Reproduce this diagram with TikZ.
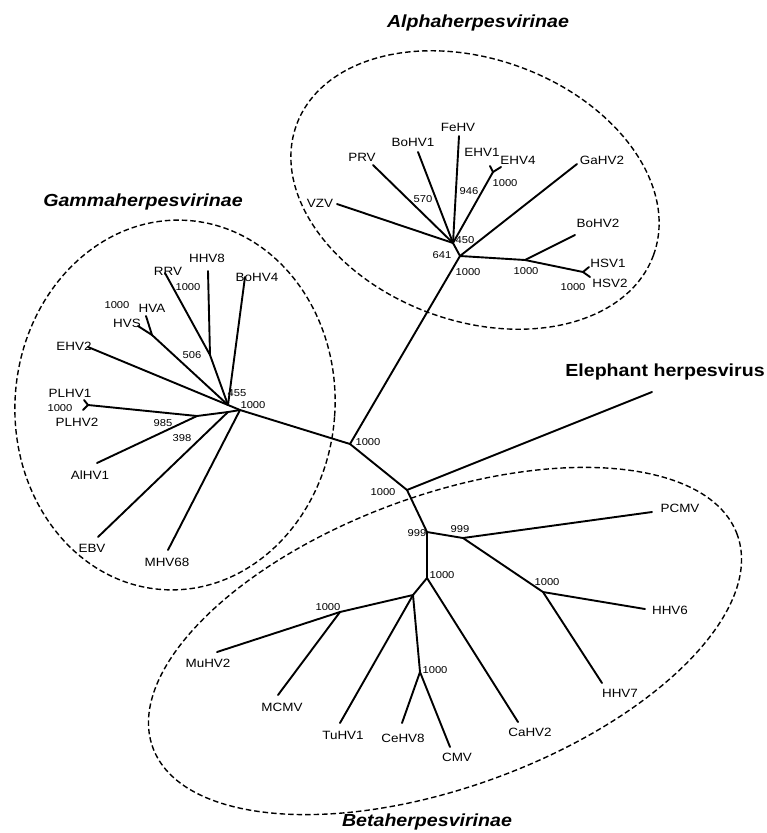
\documentclass[tikz,border=0pt]{standalone}
\usepackage{fontspec}
\setmainfont{Liberation Sans}[FakeStretch=1.12]

\begin{document}
\begin{tikzpicture}[x=1pt,y=-1pt,
    branch/.style={line width=1.9pt,line cap=round},
    clade/.style={line width=1.4pt,dash pattern=on 5.5pt off 3pt},
    taxon/.style={inner sep=0pt,font=\fontsize{12}{12}\selectfont},
    boot/.style={inner sep=0pt,font=\fontsize{10}{10}\selectfont},
    family/.style={inner sep=0pt,font=\fontsize{17.5}{17.5}\selectfont\bfseries\itshape}]
    \useasboundingbox (0,0) rectangle (767,833);
    \newcommand\twig[2]{\draw[branch] (#1) -- (#2);}

    % inner nodes of the tree
    \coordinate (c1) at (350,444);
    \coordinate (c2) at (407,490);
    \coordinate (c3) at (427,532);
    \coordinate (c4) at (427,578);
    \coordinate (c5) at (413,595);
    % alpha
    \coordinate (a0) at (460,256);
    \coordinate (a1) at (453,243);
    \coordinate (aE) at (493,172);
    \coordinate (aH) at (525,260);
    \coordinate (aS) at (583,272);
    % gamma
    \coordinate (g0) at (240,410);
    \coordinate (g1) at (228,405);
    \coordinate (g2) at (210,355);
    \coordinate (g3) at (152,335);
    \coordinate (g5) at (228,412);
    \coordinate (g4) at (197,416);
    \coordinate (gP) at (88,405);
    % beta
    \coordinate (b1) at (463,538);
    \coordinate (b2) at (543,592);
    \coordinate (b3) at (340,612);
    \coordinate (b4) at (420,672);

    % tips
    \coordinate (tVZV) at (337,204);
    \coordinate (tPRV) at (373,165);
    \coordinate (tBoHV1) at (418,152);
    \coordinate (tFeHV) at (459,136);
    \coordinate (tEHV1) at (490,166);
    \coordinate (tEHV4) at (501,167);
    \coordinate (tGaHV2) at (577,164);
    \coordinate (tBoHV2) at (575,235);
    \coordinate (tHSV1) at (589,267);
    \coordinate (tHSV2) at (590,277);
    \coordinate (tMHV68) at (168,550);
    \coordinate (tBoHV4) at (245,277);
    \coordinate (tRRV) at (165,273);
    \coordinate (tHHV8) at (208,271);
    \coordinate (tHVS) at (138,326);
    \coordinate (tHVA) at (146,316);
    \coordinate (tEHV2) at (88,347);
    \coordinate (tPLHV1) at (84,400);
    \coordinate (tPLHV2) at (83,410);
    \coordinate (tAlHV1) at (97,463);
    \coordinate (tEBV) at (98,537);
    \coordinate (tEle) at (652,392);
    \coordinate (tPCMV) at (652,512);
    \coordinate (tHHV6) at (645,609);
    \coordinate (tHHV7) at (602,683);
    \coordinate (tCaHV2) at (518,722);
    \coordinate (tMuHV2) at (217,652);
    \coordinate (tMCMV) at (278,695);
    \coordinate (tTuHV1) at (340,723);
    \coordinate (tCeHV8) at (402,723);
    \coordinate (tCMV) at (450,747);

    % dashed groups
    \draw[clade,rotate around={-20:(475,190)}] (475,190) ellipse [x radius=190pt,y radius=131pt];
    \draw[clade,rotate around={-4:(175,405)}] (175,405) ellipse [x radius=160pt,y radius=185pt];
    \draw[clade,rotate around={20:(445,641)}] (445,641) ellipse [x radius=311pt,y radius=146pt];

    % backbone
    \twig{a0}{c1} \twig{c1}{g0} \twig{c1}{c2} \twig{c2}{tEle}
    \twig{c2}{c3} \twig{c3}{c4} \twig{c4}{c5}
    % alpha branches
    \twig{a0}{a1} \twig{a1}{tVZV} \twig{a1}{tPRV} \twig{a1}{tBoHV1}
    \twig{a1}{tFeHV} \twig{a1}{aE} \twig{aE}{tEHV1} \twig{aE}{tEHV4}
    \twig{a0}{tGaHV2} \twig{a0}{aH} \twig{aH}{tBoHV2} \twig{aH}{aS}
    \twig{aS}{tHSV1} \twig{aS}{tHSV2}
    % gamma branches
    \twig{g0}{tMHV68} \twig{g0}{g1} \twig{g1}{tBoHV4} \twig{g1}{g2}
    \twig{g2}{tRRV} \twig{g2}{tHHV8} \twig{g1}{g3} \twig{g3}{tHVS}
    \twig{g3}{tHVA} \twig{g1}{tEHV2} \twig{g0}{g5} \twig{g5}{g4}
    \twig{g4}{gP} \twig{gP}{tPLHV1} \twig{gP}{tPLHV2} \twig{g4}{tAlHV1}
    \twig{g5}{tEBV}
    % beta branches
    \twig{c3}{b1} \twig{b1}{tPCMV} \twig{b1}{b2} \twig{b2}{tHHV6}
    \twig{b2}{tHHV7} \twig{c4}{tCaHV2} \twig{c5}{b3} \twig{b3}{tMuHV2}
    \twig{b3}{tMCMV} \twig{c5}{tTuHV1} \twig{c5}{b4} \twig{b4}{tCeHV8}
    \twig{b4}{tCMV}

    % taxa
    \node[taxon] (VZV) at (320,203) {VZV};
    \node[taxon] (PRV) at (362,157) {PRV};
    \node[taxon] (BoHV1) at (413,142) {BoHV1};
    \node[taxon] (FeHV) at (458,127) {FeHV};
    \node[taxon] (EHV1) at (482,152) {EHV1};
    \node[taxon] (EHV4) at (518,160) {EHV4};
    \node[taxon] (GaHV2) at (602,160) {GaHV2};
    \node[taxon] (BoHV2) at (598,223) {BoHV2};
    \node[taxon] (HSV1) at (608,263) {HSV1};
    \node[taxon] (HSV2) at (610,283) {HSV2};
    \node[taxon] (RRV) at (168,271) {RRV};
    \node[taxon] (HHV8) at (207,258) {HHV8};
    \node[taxon] (BoHV4) at (257,277) {BoHV4};
    \node[taxon] (HVA) at (152,308) {HVA};
    \node[taxon] (HVS) at (127,323) {HVS};
    \node[taxon] (EHV2) at (74,346) {EHV2};
    \node[taxon] (PLHV1) at (70,393) {PLHV1};
    \node[taxon] (PLHV2) at (77,422) {PLHV2};
    \node[taxon] (AlHV1) at (90,475) {AlHV1};
    \node[taxon] (EBV) at (92,548) {EBV};
    \node[taxon] (MHV68) at (167,562) {MHV68};
    \node[taxon] (PCMV) at (680,508) {PCMV};
    \node[taxon] (HHV6) at (670,610) {HHV6};
    \node[taxon] (HHV7) at (620,693) {HHV7};
    \node[taxon] (CaHV2) at (530,732) {CaHV2};
    \node[taxon] (MuHV2) at (208,663) {MuHV2};
    \node[taxon] (MCMV) at (282,707) {MCMV};
    \node[taxon] (TuHV1) at (343,735) {TuHV1};
    \node[taxon] (CeHV8) at (403,738) {CeHV8};
    \node[taxon] (CMV) at (457,757) {CMV};

    % bootstrap values
    \node[boot] (bs570) at (423,199) {570};
    \node[boot] (bs946) at (469,191) {946};
    \node[boot] (bsEHV) at (505,183) {1000};
    \node[boot] (bs450) at (465,240) {450};
    \node[boot] (bs641) at (442,255) {641};
    \node[boot] (bsAlpha) at (468,272) {1000};
    \node[boot] (bsHerp) at (526,271) {1000};
    \node[boot] (bsHSV) at (573,287) {1000};
    \node[boot] (bsC1) at (368,442) {1000};
    \node[boot] (bs455) at (237,393) {455};
    \node[boot] (bsGamma) at (253,405) {1000};
    \node[boot] (bs506) at (192,355) {506};
    \node[boot] (bsRRV) at (188,287) {1000};
    \node[boot] (bsHV) at (117,305) {1000};
    \node[boot] (bsPLHV) at (60,408) {1000};
    \node[boot] (bs985) at (163,423) {985};
    \node[boot] (bs398) at (182,438) {398};
    \node[boot] (bsC2) at (383,492) {1000};
    \node[boot] (bsC3) at (417,533) {999};
    \node[boot] (bsB1) at (460,529) {999};
    \node[boot] (bsB2) at (547,582) {1000};
    \node[boot] (bsC4) at (442,575) {1000};
    \node[boot] (bsB3) at (328,607) {1000};
    \node[boot] (bsB4) at (435,670) {1000};

    % groups
    \node[family] (alpha) at (478,23) {Alphaherpesvirinae};
    \node[family] (gamma) at (143,202) {Gammaherpesvirinae};
    \node[family] (beta) at (427,822) {Betaherpesvirinae};
    \node[family,font=\fontsize{17.5}{17.5}\selectfont\bfseries] (eleph) at (665,372) {Elephant herpesvirus};
\end{tikzpicture}
\end{document}
